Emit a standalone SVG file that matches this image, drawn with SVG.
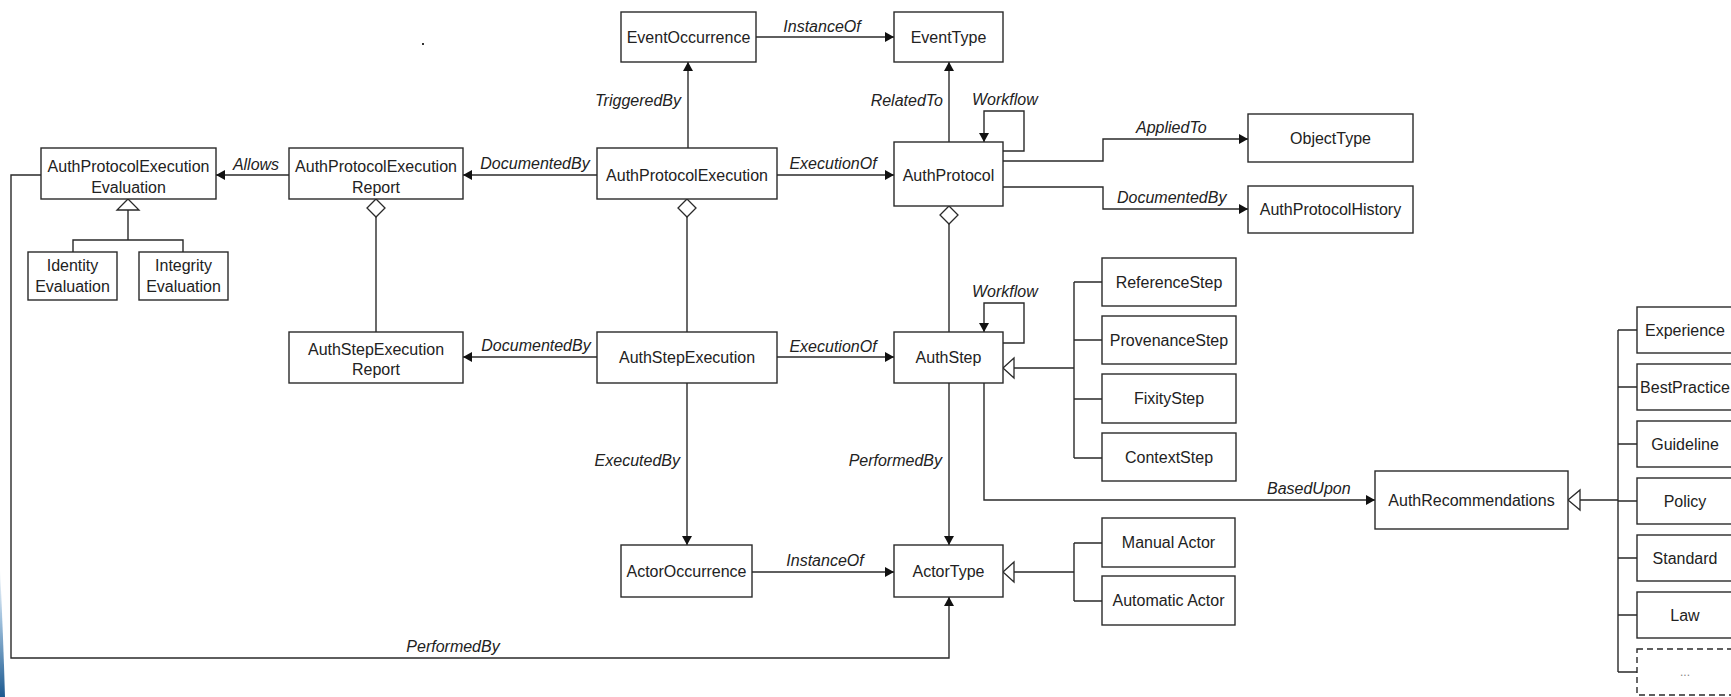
<svg xmlns="http://www.w3.org/2000/svg" width="1731" height="697" viewBox="0 0 1731 697">
<style>
.box{fill:#fff;stroke:#2a2a2a;stroke-width:1.4}
.dash{fill:#fff;stroke:#2a2a2a;stroke-width:1.4;stroke-dasharray:6 4}
.t{font-family:"Liberation Sans",Arial,sans-serif;font-size:16px;fill:#222;text-anchor:middle}
.l{font-family:"Liberation Sans",Arial,sans-serif;font-size:16px;font-style:italic;fill:#222}
.c{fill:none;stroke:#2a2a2a;stroke-width:1.4}
.arr{marker-end:url(#ah)}
.gen{fill:#fff;stroke:#2a2a2a;stroke-width:1.3}
.dia{fill:#fff;stroke:#2a2a2a;stroke-width:1.3}
</style>
<defs>
<marker id="ah" markerUnits="userSpaceOnUse" markerWidth="10" markerHeight="12" refX="9" refY="5" orient="auto">
<path d="M0,0 L9,5 L0,10 z" fill="#111"/>
</marker>
<linearGradient id="blue" x1="0" y1="0" x2="0" y2="1">
<stop offset="0" stop-color="#ffffff"/>
<stop offset="0.4" stop-color="#9fc0dc"/>
<stop offset="1" stop-color="#1c5a90"/>
</linearGradient>
</defs>
<rect x="0" y="0" width="1731" height="697" fill="#fff"/>
<path d="M0,568 Q3,630 5,697 L0,697 Z" fill="url(#blue)"/>
<rect x="422" y="43" width="2" height="2" fill="#333"/>

<g id="connectors">
<line class="c arr" x1="688" y1="148" x2="688" y2="62"/>
<line class="c arr" x1="756" y1="37" x2="894" y2="37"/>
<line class="c arr" x1="949" y1="142" x2="949" y2="62"/>
<path class="c arr" d="M1003,151 H1024 V111 H984 V142"/>
<line class="c arr" x1="777" y1="175" x2="894" y2="175"/>
<line class="c arr" x1="597" y1="175" x2="463" y2="175"/>
<line class="c arr" x1="289" y1="175" x2="216" y2="175"/>
<path class="c arr" d="M1003,161 H1103 V139 H1248"/>
<path class="c arr" d="M1003,187 H1103 V209 H1248"/>
<path class="c" d="M73,252 V240 H183 V252 M128,240 V210"/>
<polygon class="gen" points="128,199 139,210 117,210"/>
<line class="c" x1="376" y1="217" x2="376" y2="332"/>
<polygon class="dia" points="376,199 385,208 376,217 367,208"/>
<line class="c" x1="687" y1="217" x2="687" y2="332"/>
<polygon class="dia" points="687,199 696,208 687,217 678,208"/>
<line class="c" x1="949" y1="224" x2="949" y2="332"/>
<polygon class="dia" points="949,206 958,215 949,224 940,215"/>
<line class="c arr" x1="597" y1="357" x2="463" y2="357"/>
<line class="c arr" x1="777" y1="357" x2="894" y2="357"/>
<path class="c arr" d="M1003,343 H1024 V303 H984 V332"/>
<path class="c" d="M1074,282 V458 M1074,282 H1102 M1074,340 H1102 M1074,399 H1102 M1074,458 H1102 M1074,368 H1014"/>
<polygon class="gen" points="1003,368 1014,358 1014,378"/>
<path class="c arr" d="M984,383 V500 H1375"/>
<line class="c arr" x1="687" y1="383" x2="687" y2="545"/>
<line class="c arr" x1="949" y1="383" x2="949" y2="545"/>
<line class="c arr" x1="752" y1="572" x2="894" y2="572"/>
<path class="c" d="M1074,543 V601 M1074,543 H1102 M1074,601 H1102 M1074,572 H1014"/>
<polygon class="gen" points="1003,572 1014,562 1014,582"/>
<path class="c arr" d="M41,175 H11 V658 H949 V597"/>
<path class="c" d="M1618,330 V672 M1618,330 H1637 M1618,387 H1637 M1618,444 H1637 M1618,501 H1637 M1618,558 H1637 M1618,615 H1637 M1618,672 H1637 M1618,500 H1580"/>
<polygon class="gen" points="1568,500 1580,490 1580,510"/>
<text class="l" x="822" y="32" text-anchor="middle">InstanceOf</text>
<text class="l" x="681" y="106" text-anchor="end">TriggeredBy</text>
<text class="l" x="943" y="106" text-anchor="end">RelatedTo</text>
<text class="l" x="972" y="105">Workflow</text>
<text class="l" x="535" y="169" text-anchor="middle">DocumentedBy</text>
<text class="l" x="833" y="169" text-anchor="middle">ExecutionOf</text>
<text class="l" x="256" y="170" text-anchor="middle">Allows</text>
<text class="l" x="1136" y="133">AppliedTo</text>
<text class="l" x="1117" y="203">DocumentedBy</text>
<text class="l" x="972" y="297">Workflow</text>
<text class="l" x="536" y="351" text-anchor="middle">DocumentedBy</text>
<text class="l" x="833" y="352" text-anchor="middle">ExecutionOf</text>
<text class="l" x="680" y="466" text-anchor="end">ExecutedBy</text>
<text class="l" x="942" y="466" text-anchor="end">PerformedBy</text>
<text class="l" x="1267" y="494">BasedUpon</text>
<text class="l" x="825" y="566" text-anchor="middle">InstanceOf</text>
<text class="l" x="453" y="652" text-anchor="middle">PerformedBy</text>
</g>

<g id="EventOccurrence"><rect class="box" x="621" y="12" width="135" height="50"/><text class="t" x="688.5" y="43">EventOccurrence</text></g>
<g id="EventType"><rect class="box" x="894" y="12" width="109" height="50"/><text class="t" x="948.5" y="43">EventType</text></g>
<g id="AuthProtocolExecutionEvaluation"><rect class="box" x="41" y="148" width="175" height="51"/><text class="t" x="128.5" y="172">AuthProtocolExecution</text><text class="t" x="128.5" y="193">Evaluation</text></g>
<g id="AuthProtocolExecutionReport"><rect class="box" x="289" y="148" width="174" height="51"/><text class="t" x="376" y="172">AuthProtocolExecution</text><text class="t" x="376" y="193">Report</text></g>
<g id="AuthProtocolExecution"><rect class="box" x="597" y="148" width="180" height="51"/><text class="t" x="687" y="181">AuthProtocolExecution</text></g>
<g id="AuthProtocol"><rect class="box" x="894" y="142" width="109" height="64"/><text class="t" x="948.5" y="181">AuthProtocol</text></g>
<g id="ObjectType"><rect class="box" x="1248" y="114" width="165" height="48"/><text class="t" x="1330.5" y="144">ObjectType</text></g>
<g id="AuthProtocolHistory"><rect class="box" x="1248" y="186" width="165" height="47"/><text class="t" x="1330.5" y="215">AuthProtocolHistory</text></g>
<g id="IdentityEvaluation"><rect class="box" x="28" y="252" width="89" height="48"/><text class="t" x="72.5" y="271">Identity</text><text class="t" x="72.5" y="292">Evaluation</text></g>
<g id="IntegrityEvaluation"><rect class="box" x="139" y="252" width="89" height="48"/><text class="t" x="183.5" y="271">Integrity</text><text class="t" x="183.5" y="292">Evaluation</text></g>
<g id="AuthStepExecutionReport"><rect class="box" x="289" y="332" width="174" height="51"/><text class="t" x="376" y="355">AuthStepExecution</text><text class="t" x="376" y="375">Report</text></g>
<g id="AuthStepExecution"><rect class="box" x="597" y="332" width="180" height="51"/><text class="t" x="687" y="363">AuthStepExecution</text></g>
<g id="AuthStep"><rect class="box" x="894" y="332" width="109" height="51"/><text class="t" x="948.5" y="363">AuthStep</text></g>
<g id="ReferenceStep"><rect class="box" x="1102" y="258" width="134" height="48"/><text class="t" x="1169" y="288">ReferenceStep</text></g>
<g id="ProvenanceStep"><rect class="box" x="1102" y="316" width="134" height="48"/><text class="t" x="1169" y="346">ProvenanceStep</text></g>
<g id="FixityStep"><rect class="box" x="1102" y="374" width="134" height="49"/><text class="t" x="1169" y="404">FixityStep</text></g>
<g id="ContextStep"><rect class="box" x="1102" y="433" width="134" height="48"/><text class="t" x="1169" y="463">ContextStep</text></g>
<g id="AuthRecommendations"><rect class="box" x="1375" y="471" width="193" height="58"/><text class="t" x="1471.5" y="506">AuthRecommendations</text></g>
<g id="ActorOccurrence"><rect class="box" x="621" y="545" width="131" height="52"/><text class="t" x="686.5" y="577">ActorOccurrence</text></g>
<g id="ActorType"><rect class="box" x="894" y="545" width="109" height="52"/><text class="t" x="948.5" y="577">ActorType</text></g>
<g id="ManualActor"><rect class="box" x="1102" y="518" width="133" height="49"/><text class="t" x="1168.5" y="548">Manual Actor</text></g>
<g id="AutomaticActor"><rect class="box" x="1102" y="576" width="133" height="49"/><text class="t" x="1168.5" y="606">Automatic Actor</text></g>
<g id="Experience"><rect class="box" x="1637" y="307" width="96" height="46"/><text class="t" x="1685" y="336">Experience</text></g>
<g id="BestPractice"><rect class="box" x="1637" y="364" width="96" height="46"/><text class="t" x="1685" y="393">BestPractice</text></g>
<g id="Guideline"><rect class="box" x="1637" y="421" width="96" height="46"/><text class="t" x="1685" y="450">Guideline</text></g>
<g id="Policy"><rect class="box" x="1637" y="478" width="96" height="46"/><text class="t" x="1685" y="507">Policy</text></g>
<g id="Standard"><rect class="box" x="1637" y="535" width="96" height="46"/><text class="t" x="1685" y="564">Standard</text></g>
<g id="Law"><rect class="box" x="1637" y="592" width="96" height="46"/><text class="t" x="1685" y="621">Law</text></g>
<g id="More"><rect class="dash" x="1637" y="649" width="96" height="46"/><text class="t" x="1685" y="676" style="font-size:12px;fill:#888">...</text></g>
</svg>
